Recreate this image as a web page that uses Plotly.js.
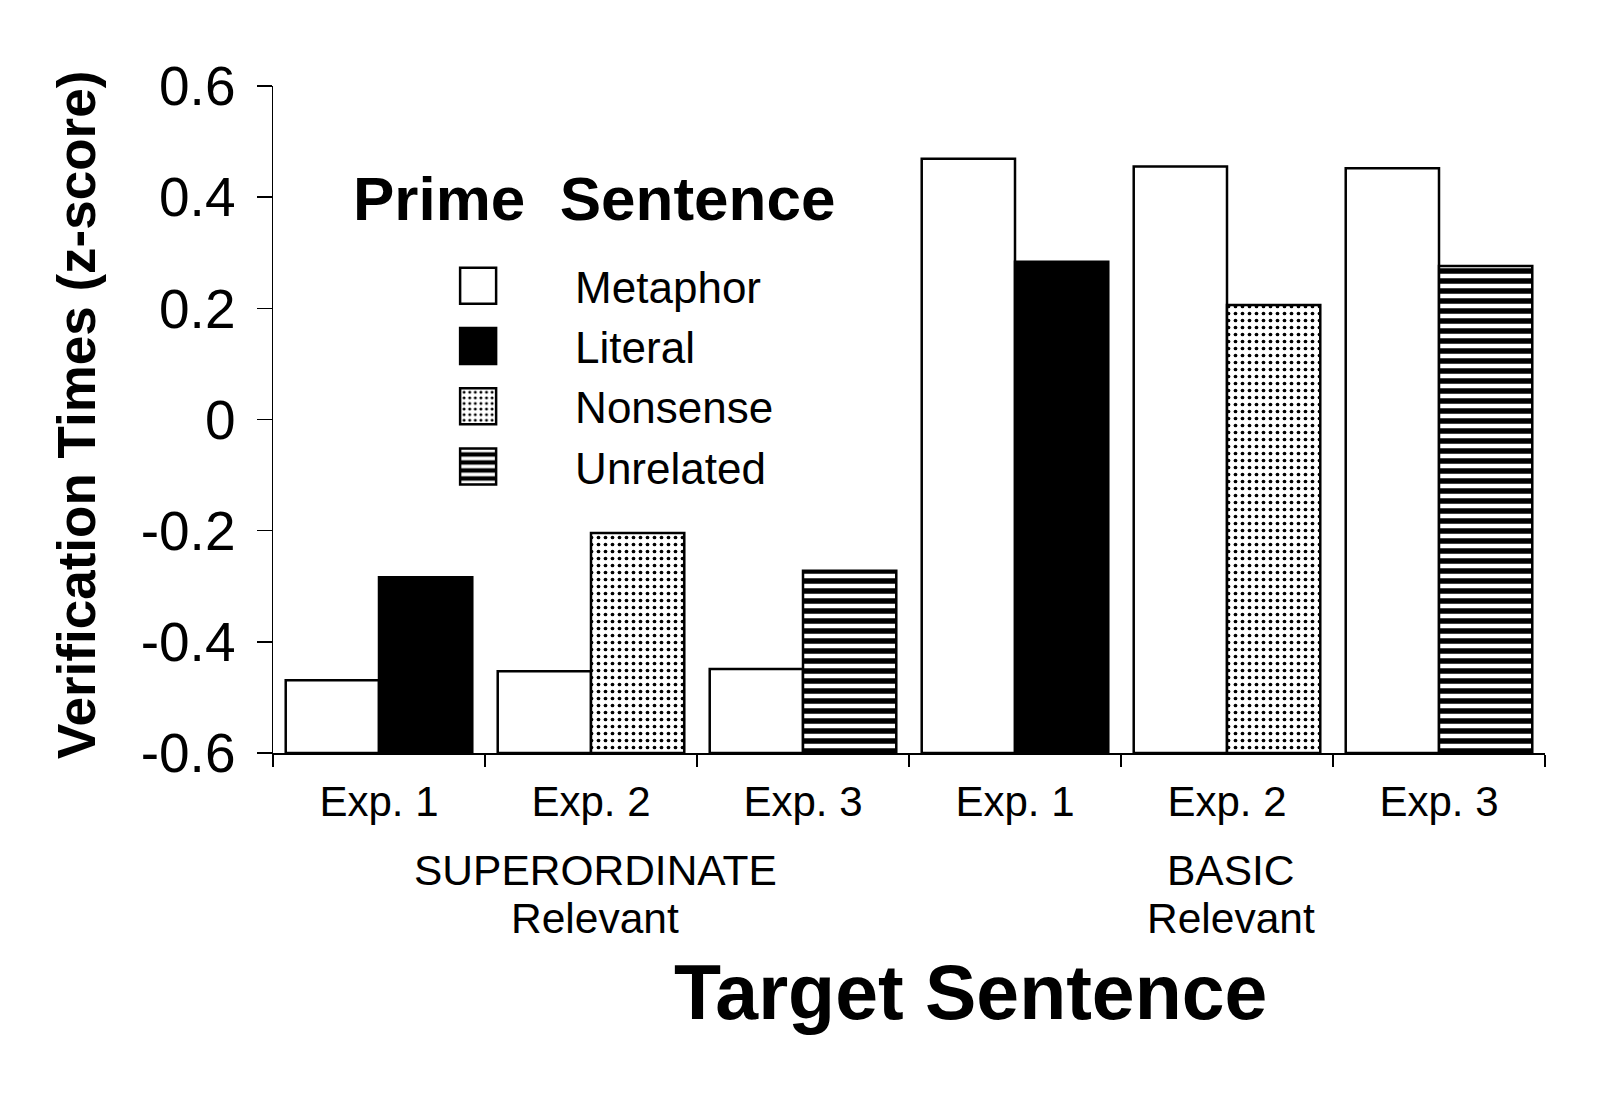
<!DOCTYPE html>
<html>
<head>
<meta charset="utf-8">
<script src="https://cdn.plot.ly/plotly-3.0.1.min.js"></script>
<style>html,body{margin:0;padding:0;background:#fff;}#chart{width:1600px;height:1102px;}</style>
</head>
<body>
<div id="chart"></div>
<script>
// ---- data ----
const expLabels = ['Exp. 1', 'Exp. 2', 'Exp. 3', 'Exp. 1', 'Exp. 2', 'Exp. 3'];
const targetTypes = ['SUPERORDINATE', 'BASIC'];
const targetSub = ['Relevant', 'Relevant'];
const targetGroupCenters = [1, 4];
const metaphor = [-0.469, -0.453, -0.449, 0.469, 0.455, 0.452];
const literalPos = [0, 3];
const literal = [-0.284, 0.284];
const nonsensePos = [1, 4];
const nonsense = [-0.204, 0.206];
const unrelatedPos = [2, 5];
const unrelated = [-0.272, 0.276];
const yTickVals = [0.6, 0.4, 0.2, 0, -0.2, -0.4, -0.6];
const yTickText = ['0.6', '0.4', '0.2', '0', '-0.2', '-0.4', '-0.6'];
const axisFloor = -0.6;

const FONT = 'Liberation Sans, Arial, Helvetica, sans-serif';
const idx = expLabels.map((_, i) => i);
const boundaries = idx.concat([expLabels.length]).map(i => i - 0.5);
const fromFloor = arr => arr.map(v => v - axisFloor);
const W = 0.44;

const traces = [
  {type: 'bar', name: 'Metaphor', legendgroup: 'a', x: idx, y: fromFloor(metaphor), base: axisFloor,
   offset: -W, width: W, marker: {color: '#ffffff', line: {color: '#000', width: 2.5}}},
  {type: 'bar', name: 'Literal', legendgroup: 'b', x: literalPos, y: fromFloor(literal), base: axisFloor,
   offset: 0, width: W, marker: {color: '#000000', line: {color: '#000', width: 2.5}}},
  {type: 'bar', name: 'Nonsense', legendgroup: 'c', x: nonsensePos, y: fromFloor(nonsense), base: axisFloor,
   offset: 0, width: W, marker: {color: '#ffffff', line: {color: '#000', width: 2.5},
   pattern: {shape: '.', fgcolor: '#000', bgcolor: '#fff', size: 7, solidity: 0.22}}},
  {type: 'bar', name: 'Unrelated', legendgroup: 'd', x: unrelatedPos, y: fromFloor(unrelated), base: axisFloor,
   offset: 0, width: W, marker: {color: '#ffffff', line: {color: '#000', width: 2.5},
   pattern: {shape: '-', fgcolor: '#000', bgcolor: '#fff', size: 10, solidity: 0.55}}}
];

const annotations = [];
targetTypes.forEach((t, i) => {
  annotations.push({xref: 'x', yref: 'paper', x: targetGroupCenters[i] + 0.02, y: -0.176, text: t, showarrow: false,
    xanchor: 'center', yanchor: 'middle', font: {family: FONT, size: 42.5, color: '#000'}});
  annotations.push({xref: 'x', yref: 'paper', x: targetGroupCenters[i] + 0.02, y: -0.248, text: targetSub[i], showarrow: false,
    xanchor: 'center', yanchor: 'middle', font: {family: FONT, size: 42.5, color: '#000'}});
});
annotations.push({xref: 'paper', yref: 'paper', x: 0.548, y: -0.358, text: '<b>Target Sentence</b>', showarrow: false,
  xanchor: 'center', yanchor: 'middle', font: {family: FONT, size: 77, color: '#000'}});
annotations.push({xref: 'paper', yref: 'paper', x: -0.154, y: 0.507, text: '<b>Verification Times (z-score)</b>', showarrow: false,
  textangle: -90, xanchor: 'center', yanchor: 'middle', font: {family: FONT, size: 53, color: '#000'}});
annotations.push({xref: 'paper', yref: 'paper', x: 0.061, y: 0.831, text: '<b>Prime\u00a0\u00a0Sentence</b>', showarrow: false,
  xanchor: 'left', yanchor: 'middle', font: {family: FONT, size: 62, color: '#000'}});

const layout = {
  width: 1600, height: 1102,
  margin: {l: 273, r: 55, t: 86, b: 349},
  paper_bgcolor: '#fff', plot_bgcolor: '#fff',
  barmode: 'overlay',
  showlegend: true,
  legend: {x: 0.085, xanchor: 'left', y: 0.753, yanchor: 'top', bgcolor: 'rgba(0,0,0,0)',
    font: {family: FONT, size: 44, color: '#000'}, itemwidth: 184, tracegroupgap: 6, traceorder: 'normal'},
  xaxis: {range: [-0.5, 5.5], tickmode: 'array', tickvals: idx, ticktext: expLabels, ticks: '',
    showline: true, linecolor: '#000', linewidth: 1.5, showgrid: false, zeroline: false,
    tickfont: {family: FONT, size: 42, color: '#000'}, ticklabelstandoff: 11,
    minor: {tickmode: 'array', tickvals: boundaries, ticks: 'outside', ticklen: 12, tickwidth: 1.5, tickcolor: '#000', showgrid: false}},
  yaxis: {range: [-0.6, 0.6], tickmode: 'array', tickvals: yTickVals, ticktext: yTickText, ticks: 'outside',
    ticklen: 15, tickwidth: 1.5, tickcolor: '#000', showline: true, linecolor: '#000', linewidth: 1.5,
    showgrid: false, zeroline: false, tickfont: {family: FONT, size: 55, color: '#000'}, ticklabelstandoff: 10},
  annotations: annotations
};

// enlarge the legend swatches (native legend bar symbols are 12px squares)
function enlargeSwatches() {
  document.querySelectorAll('.legend .legendpoints path').forEach(p => {
    if (p.getAttribute('data-big')) return;
    p.setAttribute('data-big', '1');
    p.setAttribute('d', 'M18,18H-18V-18H18Z');
  });
}

Plotly.newPlot('chart', traces, layout, {displayModeBar: false, staticPlot: true}).then(() => {
  enlargeSwatches();
  setTimeout(enlargeSwatches, 50);
});
</script>
</body>
</html>
